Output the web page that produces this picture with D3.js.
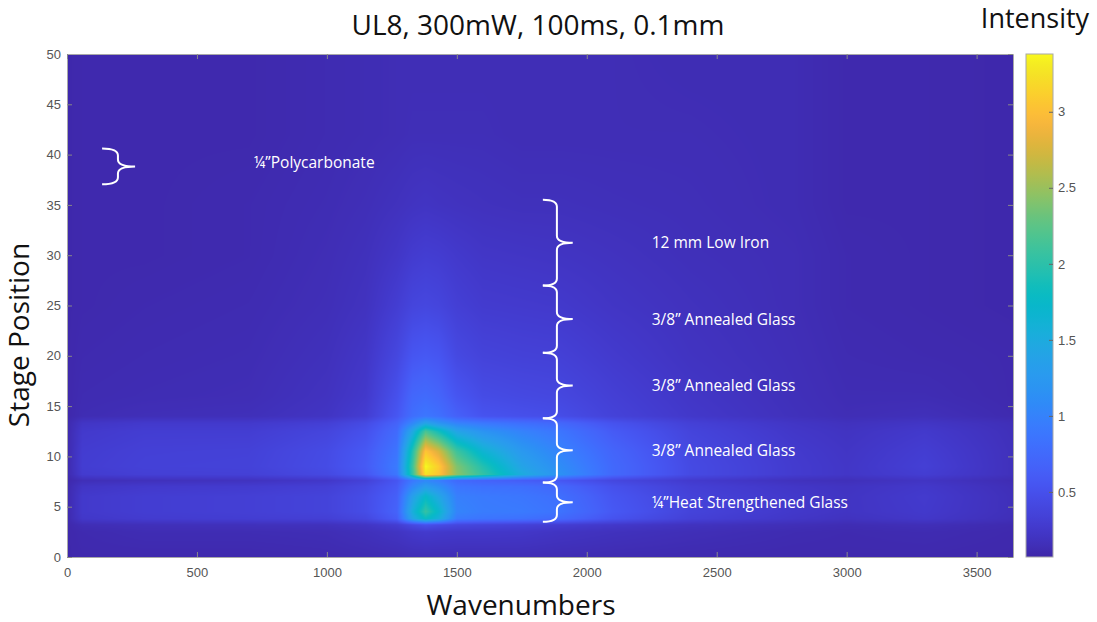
<!DOCTYPE html>
<html>
<head>
<meta charset="utf-8">
<script src="https://cdn.jsdelivr.net/npm/d3@7"></script>
<style>
  body { margin: 0; background: #fff; }
  svg { display: block; }
</style>
</head>
<body>
<script>
// grid nodes of the measured map (wavenumbers x stage position)
const wavenumbers = [0, 60, 300, 700, 1000, 1150, 1270, 1330, 1380, 1430, 1500, 1600, 1750, 1900, 2100, 2400, 2800, 3000, 3300, 3640];
const stagePositions = [0, 2.5, 3.2, 3.8, 4.5, 6, 7.0, 7.6, 8.2, 9, 10.5, 12.5, 13.3, 14, 16, 20, 25, 30, 35, 42, 50];
// one row per stage position, one value per wavenumber
const intensity = [
  [0.09,0.10,0.10,0.10,0.11,0.12,0.13,0.14,0.14,0.14,0.14,0.14,0.14,0.13,0.12,0.11,0.10,0.10,0.10,0.09],
  [0.09,0.11,0.13,0.13,0.14,0.17,0.21,0.25,0.27,0.26,0.25,0.25,0.24,0.21,0.18,0.15,0.12,0.11,0.12,0.10],
  [0.09,0.14,0.16,0.17,0.18,0.22,0.30,0.42,0.50,0.45,0.40,0.37,0.34,0.30,0.25,0.19,0.15,0.13,0.15,0.11],
  [0.10,0.24,0.28,0.30,0.32,0.40,0.62,1.40,1.80,1.55,0.92,0.86,0.82,0.74,0.52,0.33,0.23,0.19,0.24,0.15],
  [0.10,0.26,0.30,0.32,0.36,0.46,0.68,1.55,2.05,1.70,1.02,0.94,0.92,0.84,0.58,0.36,0.25,0.21,0.26,0.16],
  [0.10,0.26,0.30,0.32,0.36,0.46,0.65,1.35,1.75,1.45,0.97,0.92,0.88,0.80,0.55,0.35,0.25,0.21,0.27,0.16],
  [0.10,0.22,0.26,0.28,0.32,0.42,0.60,1.05,1.30,1.15,0.87,0.82,0.80,0.72,0.50,0.32,0.23,0.20,0.25,0.15],
  [0.09,0.15,0.17,0.19,0.24,0.34,0.55,0.90,1.05,0.95,0.75,0.68,0.62,0.56,0.40,0.27,0.18,0.16,0.21,0.13],
  [0.10,0.28,0.32,0.33,0.42,0.56,0.88,2.05,3.25,3.05,2.45,2.05,1.50,1.15,0.74,0.43,0.28,0.23,0.30,0.17],
  [0.10,0.30,0.34,0.35,0.45,0.60,0.92,2.10,3.38,3.10,2.40,1.95,1.40,1.10,0.74,0.43,0.28,0.23,0.32,0.17],
  [0.10,0.29,0.33,0.34,0.44,0.58,0.86,1.95,3.05,2.75,2.10,1.65,1.25,1.00,0.70,0.41,0.27,0.22,0.30,0.17],
  [0.10,0.26,0.30,0.30,0.38,0.50,0.76,1.45,2.15,1.85,1.40,1.18,1.00,0.86,0.60,0.37,0.24,0.20,0.26,0.16],
  [0.10,0.22,0.26,0.26,0.32,0.44,0.68,1.05,1.40,1.20,1.00,0.90,0.80,0.72,0.52,0.33,0.22,0.18,0.22,0.15],
  [0.09,0.13,0.15,0.16,0.21,0.30,0.56,0.80,0.88,0.82,0.66,0.53,0.49,0.46,0.35,0.25,0.17,0.14,0.16,0.11],
  [0.09,0.12,0.13,0.14,0.19,0.26,0.50,0.72,0.76,0.70,0.55,0.45,0.42,0.40,0.32,0.23,0.16,0.13,0.13,0.10],
  [0.09,0.11,0.12,0.13,0.17,0.23,0.40,0.55,0.58,0.55,0.42,0.36,0.34,0.33,0.27,0.20,0.15,0.12,0.11,0.10],
  [0.09,0.10,0.11,0.12,0.15,0.19,0.30,0.38,0.40,0.38,0.32,0.28,0.27,0.26,0.22,0.18,0.14,0.11,0.10,0.09],
  [0.09,0.10,0.10,0.11,0.14,0.17,0.23,0.28,0.30,0.29,0.26,0.23,0.22,0.21,0.19,0.16,0.14,0.11,0.10,0.09],
  [0.09,0.10,0.10,0.11,0.13,0.15,0.18,0.20,0.21,0.20,0.19,0.18,0.17,0.17,0.16,0.15,0.13,0.10,0.10,0.09],
  [0.09,0.10,0.10,0.10,0.12,0.13,0.14,0.15,0.15,0.15,0.15,0.15,0.14,0.14,0.14,0.14,0.13,0.10,0.10,0.09],
  [0.09,0.10,0.10,0.10,0.12,0.13,0.14,0.14,0.14,0.14,0.14,0.14,0.14,0.14,0.14,0.13,0.13,0.10,0.10,0.09]
];

const xTicks = [0, 500, 1000, 1500, 2000, 2500, 3000, 3500];
const yTicks = [0, 5, 10, 15, 20, 25, 30, 35, 40, 45, 50];
const colorTicks = [0.5, 1, 1.5, 2, 2.5, 3];
const colorRange = [0.072, 3.38];

// sample annotations (stage position spans)
const layerBounds = [35.5, 27.0, 20.3, 13.8, 7.4, 3.5];
const layerNames = ["12 mm Low Iron", "3/8\u201D Annealed Glass", "3/8\u201D Annealed Glass", "3/8\u201D Annealed Glass", "\u00BC\u201DHeat Strengthened Glass"];
const polyBounds = [40.6, 37.05];
const polyName = "\u00BC\u201DPolycarbonate";

// parula colormap
const parula = ["#3e26a8","#4030b9","#4237c9","#4440d6","#4548e0","#4650ec","#4658f4","#4562f9","#4169fc","#3d72fe","#3a7afe","#3583fb","#2e8bf7","#2b93f2","#2a9aef","#279fea","#22a6e4","#1cacdd","#13b1d6","#0bb5ce","#06bac6","#10bdbc","#22bfb1","#30c1a6","#3fc39b","#4fc48f","#62c483","#76c374","#8cc265","#a2bf57","#b8bc4a","#ccb840","#dfb43c","#efb33e","#fcb93b","#fdc433","#fbd02c","#f6dc27","#f3e924","#f9f81e"];

const width = 1097, height = 622;
const plot = { left: 67, right: 1013, top: 54, bottom: 557 };

const x = d3.scaleLinear([0, 3640], [plot.left, plot.right]);
const y = d3.scaleLinear([0, 50], [plot.bottom, plot.top]);
const color = d3.scaleSequential(d3.interpolateRgbBasis(parula)).domain(colorRange).clamp(true);

const svg = d3.select("body").append("svg")
  .attr("width", width)
  .attr("height", height)
  .style("font-family", "'Liberation Sans', Arial, sans-serif");

// heatmap: bilinear shading of the grid, painted on a canvas
const pw = plot.right - plot.left, ph = plot.bottom - plot.top;
const canvas = document.createElement("canvas");
canvas.width = pw; canvas.height = ph;
const ctx = canvas.getContext("2d");
const img = ctx.createImageData(pw, ph);
function locate(nodes, v) {
  let i = d3.bisectRight(nodes, v) - 1;
  i = Math.max(0, Math.min(nodes.length - 2, i));
  const t = Math.max(0, Math.min(1, (v - nodes[i]) / (nodes[i + 1] - nodes[i])));
  return [i, t];
}
for (let py = 0; py < ph; py++) {
  const [j, ty] = locate(stagePositions, y.invert(plot.top + py + 0.5));
  const r0 = intensity[j], r1 = intensity[j + 1];
  for (let px = 0; px < pw; px++) {
    const [i, tx] = locate(wavenumbers, x.invert(plot.left + px + 0.5));
    const a = r0[i] * (1 - tx) + r0[i + 1] * tx;
    const b = r1[i] * (1 - tx) + r1[i + 1] * tx;
    const c = d3.rgb(color(a * (1 - ty) + b * ty));
    const k = (py * pw + px) * 4;
    img.data[k] = c.r; img.data[k + 1] = c.g; img.data[k + 2] = c.b; img.data[k + 3] = 255;
  }
}
ctx.putImageData(img, 0, 0);
svg.append("image")
  .attr("x", plot.left).attr("y", plot.top)
  .attr("width", pw).attr("height", ph)
  .attr("href", canvas.toDataURL());

// axes
const tickColor = "#555";
const plain = d => String(d);
svg.append("g").attr("transform", `translate(0,${plot.bottom})`)
  .call(d3.axisBottom(x).tickValues(xTicks).tickFormat(plain).tickSizeInner(-5).tickSizeOuter(0).tickPadding(11));
svg.append("g").attr("transform", `translate(${plot.left},0)`)
  .call(d3.axisLeft(y).tickValues(yTicks).tickFormat(plain).tickSizeInner(-5).tickSizeOuter(0).tickPadding(6));
svg.append("g").attr("transform", `translate(0,${plot.top})`)
  .call(d3.axisTop(x).tickValues(xTicks).tickSizeInner(-5).tickSizeOuter(0).tickFormat(""));
svg.append("g").attr("transform", `translate(${plot.right},0)`)
  .call(d3.axisRight(y).tickValues(yTicks).tickSizeInner(-5).tickSizeOuter(0).tickFormat(""));
svg.selectAll(".domain").attr("stroke", "#a8a8a8");
svg.selectAll(".tick line").attr("stroke", "#888");
svg.selectAll(".tick text").attr("fill", tickColor).style("font-size", "13px");

// colorbar
const cb = { left: 1026, right: 1053 };
const cy = d3.scaleLinear(colorRange, [plot.bottom, plot.top]);
const grad = svg.append("defs").append("linearGradient")
  .attr("id", "parula").attr("x1", 0).attr("y1", 1).attr("x2", 0).attr("y2", 0);
grad.selectAll("stop").data(d3.range(0, 1.0001, 0.02)).join("stop")
  .attr("offset", d => d)
  .attr("stop-color", d => color(colorRange[0] + d * (colorRange[1] - colorRange[0])));
svg.append("rect")
  .attr("x", cb.left).attr("y", plot.top)
  .attr("width", cb.right - cb.left).attr("height", ph)
  .attr("fill", "url(#parula)")
  .attr("stroke", "#a8a8a8");
const gc = svg.append("g").attr("transform", `translate(${cb.right},0)`)
  .call(d3.axisRight(cy).tickValues(colorTicks).tickFormat(plain).tickSizeInner(-4).tickSizeOuter(0).tickPadding(5));
gc.select(".domain").remove();
gc.selectAll(".tick line").attr("stroke", "#666");
gc.selectAll(".tick text").attr("fill", tickColor).style("font-size", "13px");

// titles
const label = (txt, size) => svg.append("text")
  .attr("text-anchor", "middle")
  .style("font-family", "'Open Sans', sans-serif")
  .style("font-size", size + "px")
  .attr("fill", "#111")
  .text(txt);
label("UL8, 300mW, 100ms, 0.1mm", 28).attr("x", 538).attr("y", 35);
label("Intensity", 27).attr("x", 1035).attr("y", 28);
label("Wavenumbers", 28).attr("x", 521).attr("y", 615);
label("Stage Position", 28).attr("transform", "translate(29,335) rotate(-90)");

// braces and layer names
function brace(xl, xs, xt, yt, yb) {
  const ym = (yt + yb) / 2, r = Math.min(7, (yb - yt) / 4);
  return `M${xl},${yt} Q${xs},${yt} ${xs},${yt + r} L${xs},${ym - r} Q${xs},${ym} ${xt},${ym}` +
         ` Q${xs},${ym} ${xs},${ym + r} L${xs},${yb - r} Q${xs},${yb} ${xl},${yb}`;
}
const notes = svg.append("g");
const spans = d3.pairs(layerBounds);
notes.selectAll("path.layer").data(spans).join("path")
  .attr("class", "layer")
  .attr("d", d => brace(x(1831), x(1885), x(1946), y(d[0]), y(d[1])))
  .attr("fill", "none").attr("stroke", "#fff").attr("stroke-width", 2);
notes.selectAll("text.layer").data(spans).join("text")
  .attr("class", "layer")
  .attr("x", x(2250))
  .attr("y", d => y((d[0] + d[1]) / 2))
  .attr("dy", "0.36em")
  .attr("fill", "#fff")
  .style("font-family", "'Open Sans', sans-serif")
  .style("font-size", "15.5px")
  .text((d, i) => layerNames[i]);
notes.append("path")
  .attr("d", brace(x(135), x(196), x(262), y(polyBounds[0]), y(polyBounds[1])))
  .attr("fill", "none").attr("stroke", "#fff").attr("stroke-width", 2);
notes.append("text")
  .attr("x", x(719)).attr("y", y(39.2)).attr("dy", "0.36em")
  .attr("fill", "#fff")
  .style("font-family", "'Open Sans', sans-serif")
  .style("font-size", "15.5px")
  .text(polyName);
</script>
</body>
</html>
